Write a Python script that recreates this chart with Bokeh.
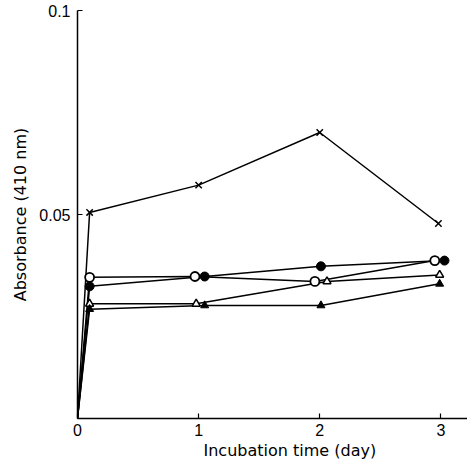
from bokeh.plotting import figure
from bokeh.models import FixedTicker, Range1d, Title
from bokeh.embed import file_html
from bokeh.resources import INLINE

# Data (x = incubation time in days, y = absorbance at 410 nm)
cross_x = [0, 0.1, 1.0, 2.0, 2.98]
cross_y = [0, 0.0505, 0.0572, 0.0701, 0.0478]

open_circle_x = [0, 0.1, 0.97, 1.96, 2.95]
open_circle_y = [0, 0.0346, 0.0348, 0.0336, 0.0387]

filled_circle_x = [0, 0.1, 1.05, 2.01, 3.03]
filled_circle_y = [0, 0.0324, 0.0348, 0.0373, 0.0387]

open_triangle_x = [0, 0.1, 0.98, 2.06, 2.99]
open_triangle_y = [0, 0.0281, 0.0281, 0.0336, 0.0352]

filled_triangle_x = [0, 0.1, 1.05, 2.01, 2.99]
filled_triangle_y = [0, 0.0268, 0.0277, 0.0277, 0.0330]

x_ticks = [0, 1, 2, 3]
y_ticks = [0, 0.05, 0.1]
y_tick_labels = {0: "", 0.05: "0.05", 0.1: "0.1"}
x_title = "Incubation time (day)"
y_title = "Absorbance (410 nm)"

p = figure(width=467, height=460, output_backend="svg", toolbar_location=None,
           x_range=Range1d(0, 3.22), y_range=Range1d(0, 0.1),
           min_border_left=77, min_border_top=10, min_border_bottom=0, min_border_right=0)

p.outline_line_color = None
p.grid.visible = False
p.background_fill_color = "white"

font = "Liberation Sans"
title_font = "DejaVu Sans"

for ax in (p.xaxis[0], p.yaxis[0]):
    ax.axis_line_color = "black"
    ax.axis_line_width = 1.5
    ax.major_tick_in = 5
    ax.major_tick_out = 0
    ax.minor_tick_line_color = None
    ax.major_tick_line_color = "black"
    ax.major_tick_line_width = 1.2
    ax.major_label_text_font = font
    ax.major_label_text_font_size = "16px"
    ax.major_label_text_color = "black"
    ax.axis_label_text_font = title_font
    ax.axis_label_text_font_size = "16px"
    ax.axis_label_text_font_style = "normal"
    ax.axis_label_text_color = "black"

p.xaxis.ticker = FixedTicker(ticks=x_ticks)
p.xaxis.major_label_standoff = 5

p.yaxis.ticker = FixedTicker(ticks=y_ticks)
p.yaxis.major_label_overrides = y_tick_labels
p.yaxis.major_label_standoff = 7
p.yaxis.axis_label = y_title
p.yaxis.axis_label_standoff = 6

# x-axis title, placed right of centre as in the reference
p.add_layout(Title(text=x_title, align="left", offset=126, text_font=title_font,
                   text_font_size="16px", text_font_style="normal",
                   text_color="black", standoff=1), "below")

lw = 1.5
p.line(cross_x, cross_y, line_color="black", line_width=lw)
p.line(open_circle_x, open_circle_y, line_color="black", line_width=lw)
p.line(filled_circle_x, filled_circle_y, line_color="black", line_width=lw)
p.line(open_triangle_x, open_triangle_y, line_color="black", line_width=lw)
p.line(filled_triangle_x, filled_triangle_y, line_color="black", line_width=lw)

p.scatter(cross_x[1:], cross_y[1:], marker="x", size=9, line_color="black", line_width=1.5)
p.scatter(open_circle_x[1:], open_circle_y[1:], marker="circle", size=9,
          line_color="black", fill_color="white", line_width=1.8)
p.scatter(filled_circle_x[1:], filled_circle_y[1:], marker="circle", size=9,
          line_color="black", fill_color="black")
p.scatter(open_triangle_x[1:], open_triangle_y[1:], marker="triangle", size=8,
          line_color="black", fill_color="white", line_width=1.5)
p.scatter(filled_triangle_x[1:], filled_triangle_y[1:], marker="triangle", size=8,
          line_color="black", fill_color="black")

open("out.html", "w").write(file_html(p, INLINE))
